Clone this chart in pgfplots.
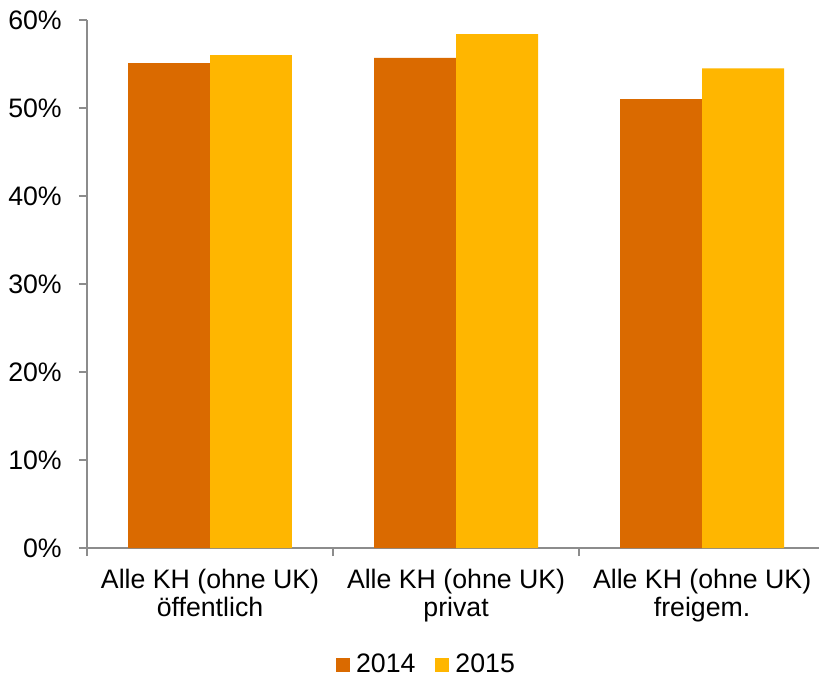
\documentclass[border=0pt]{standalone}
\usepackage{pgfplots}
\pgfplotsset{compat=1.18}
\usepackage{fontspec}
\setmainfont{Liberation Sans}
\definecolor{c14}{HTML}{DA6A00}
\definecolor{c15}{HTML}{FFB600}
\definecolor{axgray}{HTML}{8C8C8C}
\begin{document}
\fontsize{13.35pt}{16pt}\selectfont
\begin{tikzpicture}
\useasboundingbox (0,0) rectangle (409.5pt,337.5pt);
\begin{axis}[
  at={(43.5pt,63.5pt)}, anchor=south west,
  width=366pt, height=264pt, scale only axis,
  xmin=-0.5, xmax=2.475, ymin=0, ymax=60,
  axis x line*=bottom, axis y line*=left,
  axis line style={axgray, line width=0.75pt},
  ybar, bar width=0.333,
  ytick={0,10,20,30,40,50,60},
  yticklabels={0\%,10\%,20\%,30\%,40\%,50\%,60\%},
  xtick={0,1,2},
  xticklabels={{Alle KH (ohne UK)\\öffentlich},{Alle KH (ohne UK)\\privat},{Alle KH (ohne UK)\\freigem.}},
  x tick label style={align=center, font=\fontsize{13.35pt}{14.2pt}\selectfont, yshift=-1.8pt},
  y tick label style={font=\fontsize{13.35pt}{16pt}\selectfont, xshift=-4pt},
  minor xtick={-0.5,0.5,1.5,2.5},
  tick align=outside,
  major tick length=4pt, minor tick length=4pt,
  tick style={axgray, line width=0.75pt},
  major x tick style={draw=none},
  legend columns=2,
  legend style={at={(0.4665,-0.2216)}, anchor=center, draw=none, fill=none,
    inner sep=0pt, outer sep=0pt,
    font=\fontsize{13.35pt}{16pt}\selectfont,
    /tikz/every even column/.append style={column sep=7pt},
    nodes={inner xsep=3pt, inner ysep=0pt}},
  legend image code/.code={\fill[#1] (0pt,-3.5pt) rectangle (7pt,3.5pt);},
]
\addplot[fill=c14, draw=none, bar shift=-0.1665] coordinates {(0,55.1) (1,55.7) (2,51.0)};
\addplot[fill=c15, draw=none, bar shift=0.1665] coordinates {(0,56.0) (1,58.4) (2,54.5)};
\legend{2014,2015}
\end{axis}
\end{tikzpicture}
\end{document}
